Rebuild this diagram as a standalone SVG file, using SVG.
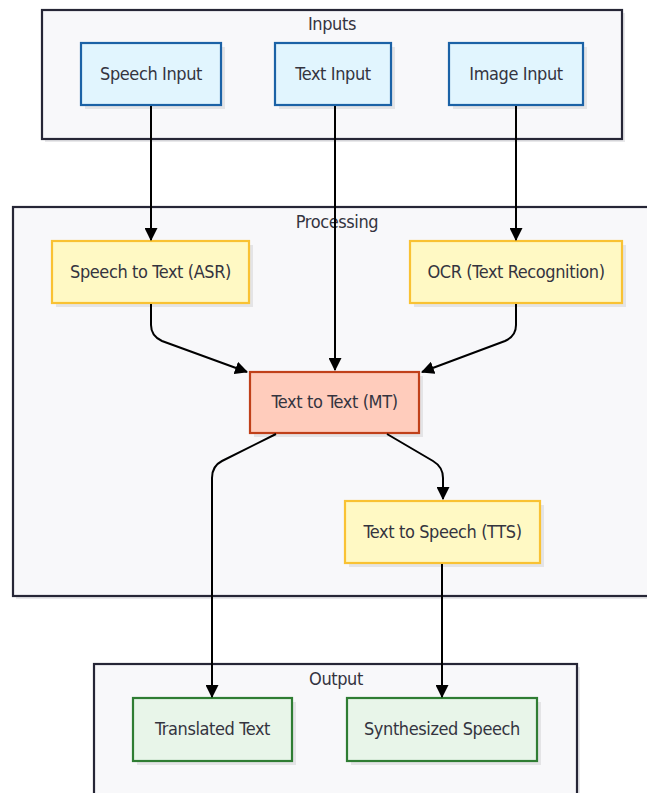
<svg xmlns="http://www.w3.org/2000/svg" width="647" height="793" viewBox="0 0 647 793">
  <style>
    text { font-family: "DejaVu Sans Condensed", "DejaVu Sans", sans-serif; font-stretch: condensed; font-size: 18px; letter-spacing: -0.4px; fill: #34343f; text-anchor: middle; }
    .grp { fill: #f8f8fa; stroke: #262636; stroke-width: 2.2; }
    .gsh { fill: #e8e8ea; }
    .sh { fill: #e4e4e6; }
    .inp { fill: #e1f5fe; stroke: #1b62a6; stroke-width: 2.2; }
    .proc { fill: #fff9c4; stroke: #f9c233; stroke-width: 2.2; }
    .mt { fill: #ffccbc; stroke: #c0401a; stroke-width: 2.2; }
    .out { fill: #e8f5e9; stroke: #2f7d33; stroke-width: 2.2; }
    .edge { fill: none; stroke: #000; stroke-width: 2; }
  </style>
  <defs>
    <marker id="arrow" viewBox="0 0 12 12" refX="11" refY="6" markerWidth="13" markerHeight="13" markerUnits="userSpaceOnUse" orient="auto">
      <path d="M0,0 L12,6 L0,12 Z" fill="#000"/>
    </marker>
  </defs>

  <rect width="647" height="793" fill="#ffffff"/>

  <!-- clusters -->
  <g id="cluster-inputs">
    <rect class="gsh" x="45" y="13" width="580" height="129"/>
    <rect class="grp" x="42" y="10" width="580" height="129"/>
    <text x="332" y="30">Inputs</text>
  </g>
  <g id="cluster-processing">
    <rect class="gsh" x="16" y="210" width="650" height="389"/>
    <rect class="grp" x="13" y="207" width="650" height="389"/>
    <text x="337" y="228">Processing</text>
  </g>
  <g id="cluster-output">
    <rect class="gsh" x="97" y="667" width="483" height="140"/>
    <rect class="grp" x="94" y="664" width="483" height="140"/>
    <text x="336" y="685">Output</text>
  </g>

  <!-- nodes -->
  <g id="speech-input">
    <rect class="sh" x="85" y="47" width="140" height="62"/>
    <rect class="inp" x="81" y="43" width="140" height="62"/>
    <text x="151" y="80">Speech Input</text>
  </g>
  <g id="text-input">
    <rect class="sh" x="279" y="47" width="116" height="62"/>
    <rect class="inp" x="275" y="43" width="116" height="62"/>
    <text x="333" y="80">Text Input</text>
  </g>
  <g id="image-input">
    <rect class="sh" x="453" y="47" width="134" height="62"/>
    <rect class="inp" x="449" y="43" width="134" height="62"/>
    <text x="516" y="80">Image Input</text>
  </g>
  <g id="asr">
    <rect class="sh" x="56" y="245" width="197" height="62"/>
    <rect class="proc" x="52" y="241" width="197" height="62"/>
    <text x="150.5" y="278">Speech to Text (ASR)</text>
  </g>
  <g id="ocr">
    <rect class="sh" x="414" y="245" width="212" height="62"/>
    <rect class="proc" x="410" y="241" width="212" height="62"/>
    <text x="516" y="278">OCR (Text Recognition)</text>
  </g>
  <g id="mt">
    <rect class="sh" x="254" y="376" width="169" height="61"/>
    <rect class="mt" x="250" y="372" width="169" height="61"/>
    <text x="334.5" y="408">Text to Text (MT)</text>
  </g>
  <g id="tts">
    <rect class="sh" x="349" y="505" width="195" height="62"/>
    <rect class="proc" x="345" y="501" width="195" height="62"/>
    <text x="442.5" y="538">Text to Speech (TTS)</text>
  </g>
  <g id="translated-text">
    <rect class="sh" x="137" y="702" width="159" height="63"/>
    <rect class="out" x="133" y="698" width="159" height="63"/>
    <text x="212.5" y="735">Translated Text</text>
  </g>
  <g id="synthesized-speech">
    <rect class="sh" x="351" y="702" width="190" height="63"/>
    <rect class="out" x="347" y="698" width="190" height="63"/>
    <text x="442" y="735">Synthesized Speech</text>
  </g>

  <!-- connectors -->
  <g id="edges">
    <path class="edge" marker-end="url(#arrow)" d="M151,106 L151,240"/>
    <path class="edge" marker-end="url(#arrow)" d="M335,106 L335,370"/>
    <path class="edge" marker-end="url(#arrow)" d="M516,106 L516,240"/>
    <path class="edge" marker-end="url(#arrow)" d="M151,304 L151,325 Q151,336 162,341 L247,372"/>
    <path class="edge" marker-end="url(#arrow)" d="M516,304 L516,325 Q516,336 505,341 L422,372"/>
    <path class="edge" marker-end="url(#arrow)" d="M276,434 L222,461 Q212,466 212,478 L212,697"/>
    <path class="edge" marker-end="url(#arrow)" d="M387,434 L433,461 Q443,467 443,478 L443,499"/>
    <path class="edge" marker-end="url(#arrow)" d="M442,564 L442,697"/>
  </g>
</svg>
